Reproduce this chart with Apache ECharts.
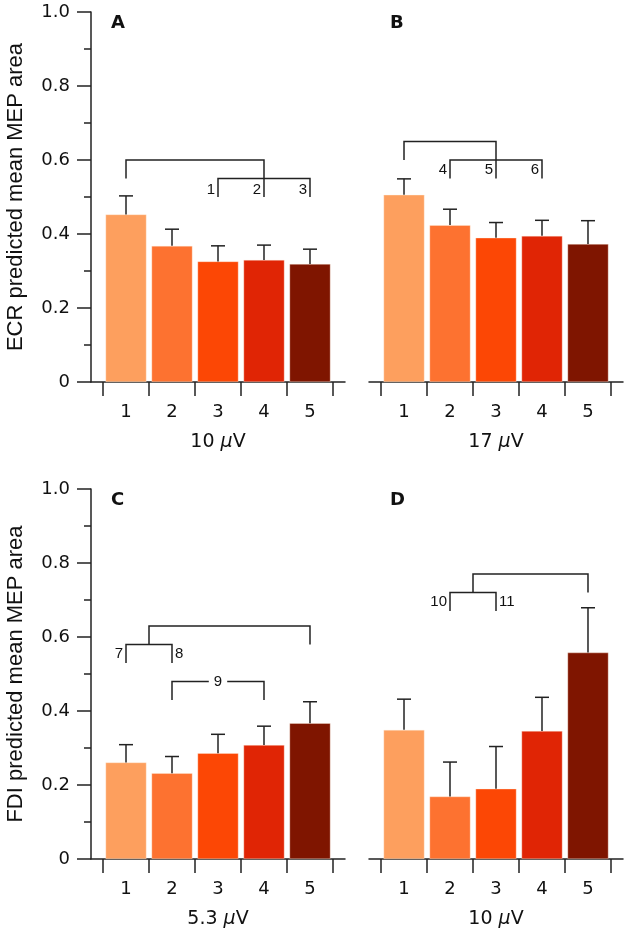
<!DOCTYPE html>
<html>
<head>
<meta charset="utf-8">
<script src="https://cdn.jsdelivr.net/npm/echarts@6/dist/echarts.min.js"></script>
<style>
html,body{margin:0;padding:0;background:#fff;}
#chart{width:625px;height:933px;}
</style>
</head>
<body>
<div id="chart"></div>
<script>
// ---- data ----
const categories = ['1', '2', '3', '4', '5'];
const xValues = [1, 2, 3, 4, 5];
const yTicks = [0, 0.2, 0.4, 0.6, 0.8, 1.0];

const meanA = [0.453, 0.368, 0.326, 0.330, 0.319];
const errA  = [0.050, 0.045, 0.042, 0.040, 0.040];
const meanB = [0.506, 0.424, 0.390, 0.395, 0.373];
const errB  = [0.043, 0.043, 0.041, 0.042, 0.063];
const meanC = [0.261, 0.232, 0.286, 0.308, 0.367];
const errC  = [0.048, 0.045, 0.051, 0.051, 0.058];
const meanD = [0.349, 0.169, 0.190, 0.346, 0.558];
const errD  = [0.083, 0.093, 0.114, 0.091, 0.121];

const panelLetters = ['A', 'B', 'C', 'D'];
const xNames = ['10', '17', '5.3', '10'];
const yNames = ['ECR predicted mean MEP area', '', 'FDI predicted mean MEP area', ''];

// significance brackets (data coordinates: category position, value)
const bracketsA = [
  [[1, 0.55], [1, 0.60], [4, 0.60], [4, 0.50]],
  [[3, 0.50], [3, 0.55], [5, 0.55], [5, 0.50]]
];
const bracketLabelsA = [['1', 3, 0.52, 'left'], ['2', 4, 0.52, 'left'], ['3', 5, 0.52, 'left']];
const bracketsB = [
  [[1, 0.60], [1, 0.65], [3, 0.65], [3, 0.55]],
  [[2, 0.55], [2, 0.60], [4, 0.60], [4, 0.55]]
];
const bracketLabelsB = [['4', 2, 0.573, 'left'], ['5', 3, 0.573, 'left'], ['6', 4, 0.573, 'left']];
const bracketsC = [
  [[1.5, 0.58], [1.5, 0.63], [5, 0.63], [5, 0.58]],
  [[1, 0.53], [1, 0.58], [2, 0.58], [2, 0.53]],
  [[2, 0.43], [2, 0.48], [2.8, 0.48]],
  [[3.2, 0.48], [4, 0.48], [4, 0.43]]
];
const bracketLabelsC = [['7', 1, 0.555, 'left'], ['8', 2, 0.555, 'right'], ['9', 3, 0.48, 'center']];
const bracketsD = [
  [[2.5, 0.72], [2.5, 0.77], [5, 0.77], [5, 0.72]],
  [[2, 0.67], [2, 0.72], [3, 0.72], [3, 0.67]]
];
const bracketLabelsD = [['10', 2, 0.695, 'left'], ['11', 3, 0.695, 'right']];

// ---- styles ----
const barColors = ['#FD9F5E', '#FD7230', '#FC4705', '#E02505', '#7F1500'];
const ink = '#222222';
const tickFont = 'DejaVu Sans';

const panels = [
  { mean: meanA, err: errA, br: bracketsA, bl: bracketLabelsA, left: 91, top: 12, showY: true },
  { mean: meanB, err: errB, br: bracketsB, bl: bracketLabelsB, left: 369, top: 12, showY: false },
  { mean: meanC, err: errC, br: bracketsC, bl: bracketLabelsC, left: 91, top: 489, showY: true },
  { mean: meanD, err: errD, br: bracketsD, bl: bracketLabelsD, left: 369, top: 489, showY: false }
];

const grid = [], xAxis = [], yAxis = [], series = [], title = [];
const letterPos = [[111, 14], [390, 14], [111, 491], [390, 491]];

panels.forEach((p, i) => {
  grid.push({ left: p.left, top: p.top, width: 254, height: 370, containLabel: false });
  xAxis.push({
    type: 'value', gridIndex: i, min: 0.239, max: 5.761,
    axisLine: { show: true, lineStyle: { color: ink, width: 1.5 } },
    axisTick: { show: true, length: 14, inside: false, customValues: [0.5, 1.5, 2.5, 3.5, 4.5, 5.5],
      lineStyle: { color: ink, width: 1.5 } },
    axisLabel: { show: true, customValues: xValues, margin: 21, color: '#111',
      fontFamily: tickFont, fontSize: 18,
      formatter: v => categories[xValues.indexOf(Math.round(v))] || '' },
    splitLine: { show: false },
    name: xNames[i] + ' {i|μ}V', nameLocation: 'middle', nameGap: 51,
    nameTextStyle: { color: '#111', fontFamily: tickFont, fontSize: 19,
      rich: { i: { fontStyle: 'italic', fontFamily: tickFont, fontSize: 19, color: '#111' } } }
  });
  yAxis.push({
    type: 'value', gridIndex: i, min: 0, max: 1, interval: 0.2,
    show: true,
    axisLine: { show: p.showY, lineStyle: { color: ink, width: 1.5 } },
    axisTick: { show: p.showY, length: 14, lineStyle: { color: ink, width: 1.5 } },
    minorTick: { show: p.showY, splitNumber: 2, length: 7, lineStyle: { color: ink, width: 1.5 } },
    axisLabel: { show: p.showY, margin: 21, color: '#111', fontFamily: tickFont, fontSize: 18,
      formatter: v => (v === 0 ? '0' : v.toFixed(1)) },
    splitLine: { show: false },
    name: yNames[i], nameLocation: 'middle', nameGap: 64,
    nameTextStyle: { color: '#111', fontFamily: 'Liberation Sans', fontSize: 22 }
  });
  title.push({
    text: panelLetters[i], left: letterPos[i][0], top: letterPos[i][1], padding: 0,
    textStyle: { fontFamily: tickFont, fontWeight: 'bold', fontSize: 18, color: '#111' }
  });
  series.push({
    type: 'bar', xAxisIndex: i, yAxisIndex: i, barWidth: 41,
    data: xValues.map((x, j) => ({ value: [x, p.mean[j]], itemStyle: { color: barColors[j] } })),
    itemStyle: { borderColor: 'rgba(255,240,225,0.6)', borderWidth: 0.6 },
    z: 2
  });
  series.push({
    type: 'custom', xAxisIndex: i, yAxisIndex: i, z: 3,
    data: xValues.map((x, j) => [x, p.mean[j], p.mean[j] + p.err[j]]),
    renderItem: (params, api) => {
      const a = api.coord([api.value(0), api.value(1)]);
      const b = api.coord([api.value(0), api.value(2)]);
      const st = { stroke: ink, lineWidth: 1.5 };
      return { type: 'group', children: [
        { type: 'line', shape: { x1: a[0], y1: a[1], x2: b[0], y2: b[1] }, style: st },
        { type: 'line', shape: { x1: b[0] - 7, y1: b[1], x2: b[0] + 7, y2: b[1] }, style: st }
      ] };
    }
  });
  const br = p.br;
  series.push({
    type: 'custom', xAxisIndex: i, yAxisIndex: i, z: 4,
    data: br.map(b => [b[0][0], b[0][1]]),
    renderItem: (params, api) => {
      const pts = br[params.dataIndex].map(pt => api.coord(pt));
      return { type: 'polyline', shape: { points: pts }, style: { stroke: ink, lineWidth: 1.5, fill: null } };
    }
  });
  const bl = p.bl;
  series.push({
    type: 'custom', xAxisIndex: i, yAxisIndex: i, z: 4,
    data: bl.map(l => [l[1], l[2]]),
    renderItem: (params, api) => {
      const l = bl[params.dataIndex];
      const c = api.coord([l[1], l[2]]);
      const side = l[3];
      const x = side === 'left' ? c[0] - 3 : side === 'right' ? c[0] + 3 : c[0];
      const align = side === 'left' ? 'right' : side === 'right' ? 'left' : 'center';
      return { type: 'text', x: x, y: c[1], style: { text: l[0], align: align, verticalAlign: 'middle',
        fontFamily: 'Liberation Sans', fontSize: 15, fill: '#111' } };
    }
  });
});

const chart = echarts.init(document.getElementById('chart'), null, { renderer: 'canvas' });
chart.setOption({ animation: false, backgroundColor: '#fff', title, grid, xAxis, yAxis, series });
</script>
</body>
</html>
